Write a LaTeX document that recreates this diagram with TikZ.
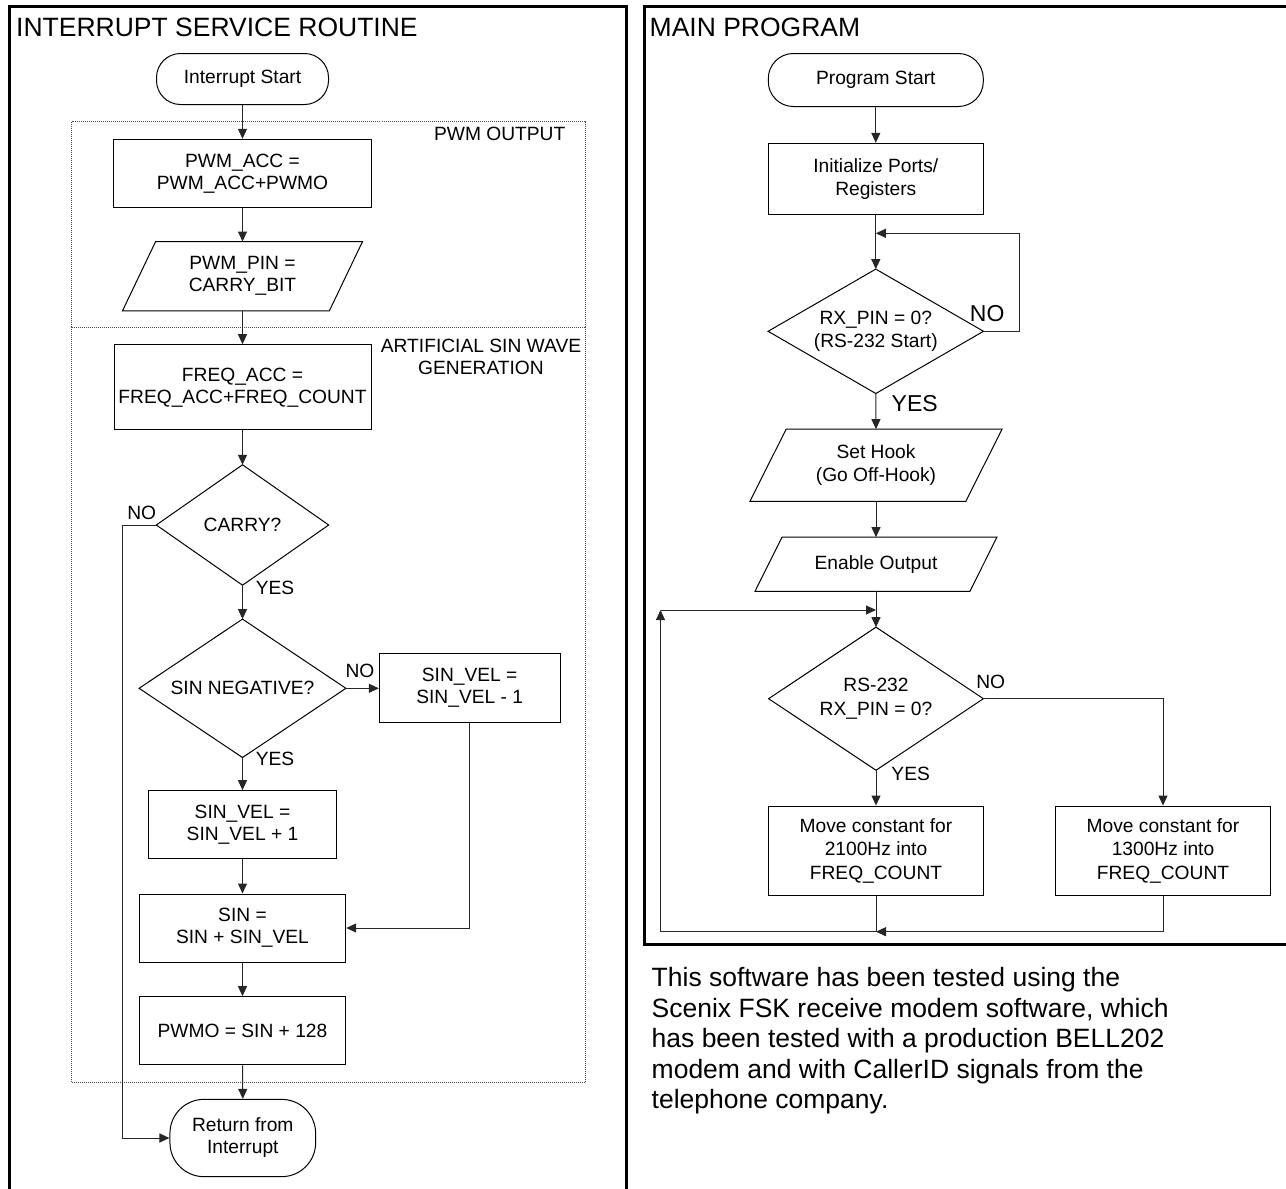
\documentclass[tikz,border=0pt]{standalone}
\usepackage{fontspec}
\setmainfont{Liberation Sans}
\usetikzlibrary{arrows.meta}
\newcommand\drawdiamond[1]{\draw[shapeline] (#1.north) -- (#1.east) -- (#1.south) -- (#1.west) -- cycle;}
\newcommand\drawpara[2]{\draw[shapeline] ([xshift=#2]#1.north west) -- ([xshift=#2]#1.north east) -- ([xshift=-#2]#1.south east) -- ([xshift=-#2]#1.south west) -- cycle;}
\begin{document}
\begin{tikzpicture}[x=1pt,y=-1pt,
  every node/.style={font=\fontsize{19.2}{22}\selectfont, inner sep=0pt, align=center},
  rfont/.style={font=\fontsize{19.2}{23.5}\selectfont},
  shapeline/.style={line width=1pt, black},
  proc/.style={draw, shapeline, rectangle},
  term/.style={draw, shapeline, rectangle, rounded corners=#1},
  dec/.style={rectangle},
  iobox/.style={rectangle},
  lineonly/.style={line width=1pt, black!85},
  conn/.style={line width=1pt, black!85, -{Triangle[length=10pt,width=9pt]}},
  frame/.style={line width=3pt, black},
  dotbox/.style={line width=0.9pt, black!70, dash pattern=on 1pt off 1pt},
  lbl/.style={font=\fontsize{19.2}{22}\selectfont},
  biglbl/.style={font=\fontsize{23}{26}\selectfont},
  title/.style={font=\fontsize{26.5}{30}\selectfont, anchor=base west},
  para/.style={font=\fontsize{26.5}{30.4}\selectfont, anchor=base west}
]
\useasboundingbox (0,0) rectangle (1286,1189);
\fill[white] (0,0) rectangle (1286,1189);

% frames
\draw[frame] (9,1200) -- (9,6.7) -- (626.5,6.7) -- (626.5,1200);
\draw[frame] (1300,6.7) -- (644,6.7) -- (644,944.3) -- (1300,944.3);

\node[title] (ttl1) at (16,36) {INTERRUPT SERVICE ROUTINE};
\node[title] (ttl2) at (649.5,36) {MAIN PROGRAM};

% dotted groups
\draw[dotbox] (71.5,121.7) rectangle (585.7,327);
\draw[dotbox] (71.5,327) rectangle (585.7,1082.5);
\node[anchor=east] (grp1) at (565.5,134.3) {PWM OUTPUT};
\node (grp2) at (481,356.7) {ARTIFICIAL SIN WAVE\\GENERATION};

% ---------- left flowchart ----------
\node[term=24pt, minimum width=172pt, minimum height=51pt] (istart) at (242.5,79) {Interrupt Start};
\node[proc, minimum width=258pt, minimum height=68.4pt] (pwmacc) at (242.5,173.5) {PWM\_ACC =\\PWM\_ACC+PWMO};
\node[iobox, minimum width=206.5pt, minimum height=69pt] (pwmpin) at (242.5,276.2) {PWM\_PIN =\\CARRY\_BIT};
\drawpara{pwmpin}{16.6pt}
\node[proc, minimum width=257pt, minimum height=85.3pt] (freqacc) at (242.5,387.3) {FREQ\_ACC =\\FREQ\_ACC+FREQ\_COUNT};
\node[dec, minimum width=172pt, minimum height=120pt] (carry) at (242.5,525) {CARRY?};
\drawdiamond{carry}
\node[dec, minimum width=206.4pt, minimum height=138pt] (sinneg) at (242.5,688.3) {SIN NEGATIVE?};
\drawdiamond{sinneg}
\node[proc, minimum width=180.7pt, minimum height=69pt] (velm) at (469.7,688) {SIN\_VEL =\\SIN\_VEL - 1};
\node[proc, minimum width=188.4pt, minimum height=68.3pt] (velp) at (242.5,824.8) {SIN\_VEL =\\SIN\_VEL + 1};
\node[proc, minimum width=206.4pt, minimum height=68pt] (sinsum) at (242.5,928) {SIN =\\SIN + SIN\_VEL};
\node[proc, minimum width=206.4pt, minimum height=68.3pt] (pwmo) at (242.5,1030.8) {PWMO = SIN + 128};
\node[term=34pt, minimum width=145.7pt, minimum height=77.3pt] (iret) at (242.8,1138) {Return from\\Interrupt};

\coordinate (nocorner) at (122.7,525);

\draw[conn] (istart.south) -- (pwmacc.north);
\draw[conn] (pwmacc.south) -- (pwmpin.north);
\draw[conn] (pwmpin.south) -- (freqacc.north);
\draw[conn] (freqacc.south) -- (carry.north);
\draw[conn] (carry.south) -- (sinneg.north);
\draw[conn] (sinneg.east) -- (sinneg.east -| velm.west);
\draw[conn] (sinneg.south) -- (velp.north);
\draw[conn] (velp.south) -- (sinsum.north);
\draw[conn] (velm.south) |- (sinsum.east);
\draw[conn] (sinsum.south) -- (pwmo.north);
\draw[conn] (pwmo.south) -- (iret.north);
\draw[conn] (carry.west) -- (nocorner) |- (iret.west);

\node[lbl] (no1) at (141.7,512.7) {NO};
\node[lbl] (yes1) at (275,588.3) {YES};
\node[lbl] (no2) at (360,670.7) {NO};
\node[lbl] (yes2) at (275,759.3) {YES};

% ---------- right flowchart ----------
\node[term=25pt, rfont, minimum width=215pt, minimum height=53pt] (pstart) at (875.8,80) {Program Start};
\node[proc, rfont, minimum width=215pt, minimum height=71pt] (init) at (875.8,178.8) {Initialize Ports/\\Registers};
\node[dec, rfont, minimum width=215pt, minimum height=124pt] (rxstart) at (875.8,331.3) {RX\_PIN = 0?\\(RS-232 Start)};
\drawdiamond{rxstart}
\node[iobox, rfont, minimum width=215.5pt, minimum height=71.7pt] (hook) at (876,465.2) {Set Hook\\(Go Off-Hook)};
\drawpara{hook}{18.1pt}
\node[iobox, rfont, minimum width=214.5pt, minimum height=53.7pt] (enable) at (876,564.2) {Enable Output};
\drawpara{enable}{13.5pt}
\node[dec, rfont, minimum width=214.3pt, minimum height=142.7pt] (rsdec) at (876,698.7) {RS-232\\RX\_PIN = 0?};
\drawdiamond{rsdec}
\node[proc, rfont, minimum width=215pt, minimum height=89.7pt] (c2100) at (876,850.9) {Move constant for\\2100Hz into\\FREQ\_COUNT};
\node[proc, rfont, minimum width=215pt, minimum height=89.7pt] (c1300) at (1163,850.9) {Move constant for\\1300Hz into\\FREQ\_COUNT};

\coordinate (loopin) at (875.8,233.3);
\coordinate (noloop) at (1019,331.3);
\coordinate (merge) at (876,610);
\coordinate (join) at (876,931.7);
\coordinate (lowleft) at (660.5,931.7);
\coordinate (upleft) at (660.5,610);

\draw[conn] (pstart.south) -- (init.north);
\draw[conn] (init.south) -- (rxstart.north);
\draw[conn] (rxstart.east) -- (noloop) |- (loopin);
\draw[conn] (rxstart.south) -- (hook.north);
\draw[conn] (hook.south) -- (enable.north);
\draw[conn] (enable.south) -- (rsdec.north);
\draw[conn] (rsdec.south) -- (c2100.north);
\draw[conn] (rsdec.east) -| (c1300.north);
\draw[lineonly] (c2100.south) -- (join) -- (lowleft);
\draw[conn] (c1300.south) |- (join);
\draw[conn] (lowleft) -- (upleft);
\draw[conn] (upleft) -- (merge);

\node[biglbl] (no3) at (987.2,313.3) {NO};
\node[biglbl] (yes3) at (914.7,403.3) {YES};
\node[lbl] (no4) at (990.7,681.7) {NO};
\node[lbl] (yes4) at (910.7,774) {YES};

% paragraph
\node[para] (p1) at (651.5,986.7) {This software has been tested using the};
\node[para] (p2) at (651.5,1017) {Scenix FSK receive modem software, which};
\node[para] (p3) at (651.5,1047.5) {has been tested with a production BELL202};
\node[para] (p4) at (651.5,1078) {modem and with CallerID signals from the};
\node[para] (p5) at (651.5,1108.3) {telephone company.};
\end{tikzpicture}
\end{document}
